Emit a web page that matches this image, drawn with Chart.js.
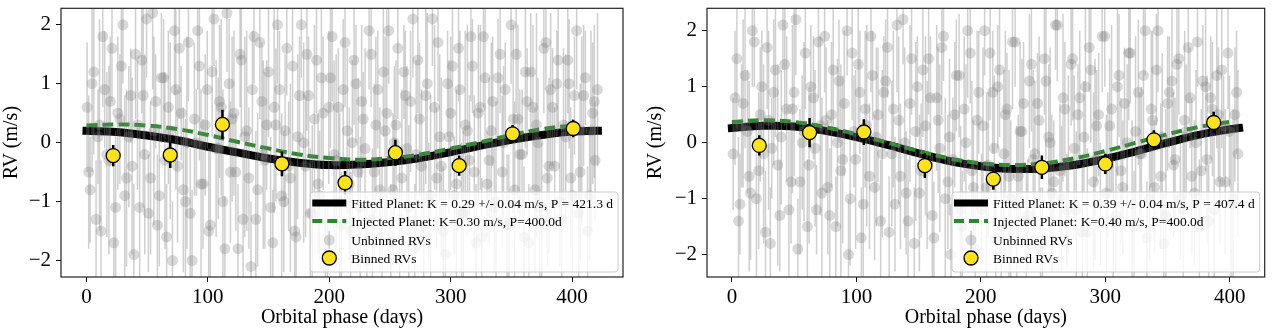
<!DOCTYPE html>
<html>
<head>
<meta charset="utf-8">
<script src="https://cdn.jsdelivr.net/npm/chart.js@4.4.1/dist/chart.umd.min.js"></script>
<style>
  html, body { margin: 0; padding: 0; background: #fff; }
  #wrap { position: relative; width: 1273px; height: 330px; }
  .panel { position: absolute; top: 0; height: 330px; }
  #panelA { left: 0; width: 636px; }
  #panelB { left: 636px; width: 637px; }
</style>
</head>
<body>
<div id="wrap">
  <div class="panel" id="panelA"><canvas id="rvLeft" width="636" height="330"></canvas></div>
  <div class="panel" id="panelB"><canvas id="rvRight" width="637" height="330"></canvas></div>
</div>
<script>
// ---- datos panel izquierdo ----
const leftRawX = [
  0.5, 3, 6, 9.5, 12, 15, 18.5, 21, 24, 27.5,
  30, 33, 36.5, 39, 42, 45.5, 48, 51, 54.5, 57,
  60, 63.5, 66, 69, 72.5, 75, 78, 81.5, 84, 87,
  90.5, 93, 96, 99.5, 102, 105, 108.5, 111, 114, 117.5,
  120, 123, 126.5, 129, 132, 135.5, 138, 141, 144.5, 147,
  150, 153.5, 156, 159, 162.5, 165, 168, 171.5, 174, 177,
  180.5, 183, 186, 189.5, 192, 195, 198.5, 201, 204, 207.5,
  210, 213, 216.5, 219, 222, 225.5, 228, 231, 234.5, 237,
  240, 243.5, 246, 249, 252.5, 255, 258, 261.5, 264, 267,
  270.5, 273, 276, 279.5, 282, 285, 288.5, 291, 294, 297.5,
  300, 303, 306.5, 309, 312, 315.5, 318, 321, 324.5, 327,
  330, 333.5, 336, 339, 342.5, 345, 348, 351.5, 354, 357,
  360.5, 363, 366, 369.5, 372, 375, 378.5, 381, 384, 387.5,
  390, 393, 396.5, 399, 402, 405.5, 408, 411, 414.5, 417,
  419, 421,
  1.8, 4.6, 7.9, 10.7, 13.4, 16.8, 19.6, 22.5, 25.8, 28.7,
  31.5, 34.9, 37.6, 40.4, 43.8, 46.7, 49.5, 52.8, 55.6, 58.4,
  61.7, 64.6, 67.4, 70.8, 73.6, 76.5, 79.8, 82.7, 85.5, 88.9,
  91.6, 94.4, 97.8, 100.7, 103.5, 106.8, 109.6, 112.4, 115.7, 118.6,
  121.5, 124.8, 127.6, 130.4, 133.8, 136.7, 139.5, 142.8, 145.6, 148.4,
  151.7, 154.6, 157.4, 160.8, 163.6, 166.5, 169.8, 172.7, 175.5, 178.9,
  181.6, 184.4, 187.8, 190.7, 193.5, 196.8, 199.6, 202.4, 205.7, 208.6,
  211.5, 214.8, 217.6, 220.4, 223.8, 226.7, 229.5, 232.8, 235.6, 238.4,
  241.7, 244.6, 247.4, 250.8, 253.6, 256.5, 259.8, 262.7, 265.5, 268.9,
  271.6, 274.4, 277.8, 280.7, 283.5, 286.8, 289.6, 292.4, 295.7, 298.6,
  301.5, 304.8, 307.6, 310.4, 313.8, 316.7, 319.5, 322.8, 325.6, 328.4,
  331.7, 334.6, 337.4, 340.8, 343.6, 346.5, 349.8, 352.7, 355.5, 358.9,
  361.6, 364.4, 367.8, 370.7, 373.5, 376.8, 379.6, 382.4, 385.7, 388.6,
  391.5, 394.8, 397.6, 400.4, 403.8, 406.7, 409.5, 412.8, 415.6, 418.4
];
const leftRawY = [
  0.6, -0.8, 1.2, 0.1, -1.5, 0.9, -0.3, 1.6, -1.1, 0.4,
  2.0, -0.6, 0.8, -1.9, 0.3, 1.4, -0.2, -1.2, 2.2, 0.7,
  -0.9, 1.1, -1.6, 0.2, 1.9, -0.4, 0.5, -1.0, 1.7, -2.0,
  0.0, 1.3, -0.7, 0.9, -1.4, 2.1, -0.1, 0.6, -1.8, 1.0,
  0.4, -0.5, 1.5, -1.3, 0.2, -2.1, 1.8, -0.8, 0.7, -0.3,
  1.2, -1.7, 0.3, 0.9, -1.0, 1.6, -0.6, -1.5, 0.1, 2.0,
  -0.4, 0.8, -1.2, 1.4, -0.9, 0.5, -1.9, 1.1, -0.2, 0.6,
  -1.4, 1.7, -0.7, 0.0, 1.0, -1.1, 0.4, -2.0, 1.5, -0.5,
  0.9, -1.6, 0.2, 1.9, -0.8, 0.3, -1.3, 1.2, -0.1, 0.7,
  -1.8, 1.4, -0.4, 0.8, -1.0, 2.1, -0.6, 0.1, -1.5, 1.0,
  0.5, -0.9, 1.6, -1.2, 0.3, -0.3, 1.3, -1.7, 0.6, 1.8,
  -0.7, 0.2, -1.1, 1.1, -0.5, 0.9, -1.4, 0.4, 1.5, -0.2,
  -1.6, 0.7, 1.2, -0.8, 0.0, -1.3, 1.7, -0.4, 0.6, 1.0,
  -1.0, 0.3, 1.4, -0.6, 0.8, -1.2, 0.2, 1.1, -0.9, 0.5,
  -0.3, 0.9,
  -0.5, 1.0, -1.3, 0.3, 1.8, -0.2, 0.7, -1.7, 0.5, 1.3,
  -0.9, 0.1, -0.4, 1.5, -1.1, 0.8, 2.1, -0.6, 0.2, -1.4,
  1.1, -0.3, 0.6, -2.0, 0.9, 1.6, -0.8, 0.0, -1.2, 0.4,
  1.9, -0.7, 0.3, -1.5, 1.2, -0.1, 0.7, -1.0, 2.2, -0.5,
  0.5, -1.8, 1.4, 0.1, -0.6, 0.9, -1.3, 1.7, -0.2, 0.3,
  -1.1, 0.6, 2.0, -0.9, 0.2, -0.4, 1.3, -1.6, 0.8, 0.0,
  1.5, -1.2, 0.4, -0.7, 1.1, -2.1, 0.6, 1.8, -0.3, -1.0,
  0.9, 0.2, -1.5, 1.4, -0.5, 0.7, -0.1, 1.9, -1.3, 0.3,
  -0.8, 1.2, 0.5, -1.7, 0.0, 1.6, -0.6, 0.8, -1.1, 2.1,
  -0.2, 0.4, -1.4, 1.0, -0.9, 0.6, 1.7, -0.4, -1.9, 0.1,
  1.3, -0.7, 0.9, -1.2, 0.2, 1.8, -0.5, 0.5, -1.6, 1.1,
  -0.3, 0.7, -1.0, 1.5, 0.0, -1.4, 2.0, -0.8, 0.4, -0.2,
  1.2, -1.7, 0.6, 0.3, -1.1, 1.6, -0.6, 0.9, -0.4, 1.4,
  -1.3, 0.1, 1.0, -0.9, 1.9, -0.5, 0.8, -1.5, 0.2, 0.7
];
const leftRawErr = [
  1.1, 0.9, 1.4, 0.8, 1.2, 1.0, 1.6, 0.9, 1.3, 1.1,
  1.0, 1.5, 0.8, 1.2, 1.1, 0.9, 1.7, 1.0, 1.3, 0.8,
  1.2, 1.0, 0.9, 1.5, 1.1, 1.3, 0.8, 1.4, 1.0, 1.2,
  0.9, 1.6, 1.1, 1.0, 1.3, 0.8, 1.2, 1.5, 0.9, 1.1,
  1.4, 1.0, 0.9, 1.2, 1.7, 1.1, 0.8, 1.3, 1.0, 1.5,
  1.1, 0.9, 1.3, 1.0, 1.2, 0.8, 1.6, 1.1, 1.4, 0.9,
  1.2, 1.0, 1.5, 0.9, 1.1, 1.3, 0.8, 1.2, 1.6, 1.0,
  0.9, 1.1, 1.3, 1.4, 1.0, 1.2, 0.8, 1.1, 0.9, 1.5,
  1.0, 1.2, 1.6, 0.9, 1.3, 1.1, 1.0, 0.8, 1.4, 1.2,
  1.1, 0.9, 1.3, 1.5, 1.0, 0.8, 1.2, 1.4, 1.1, 0.9,
  1.3, 1.0, 0.9, 1.2, 1.6, 1.1, 0.8, 1.0, 1.4, 1.2,
  0.9, 1.5, 1.1, 1.0, 1.3, 0.8, 1.2, 1.6, 1.0, 1.1,
  1.2, 0.9, 1.0, 1.4, 1.1, 1.3, 0.8, 1.5, 1.0, 0.9,
  1.1, 1.3, 0.9, 1.2, 1.0, 1.4, 1.6, 0.8, 1.1, 1.2,
  1.0, 1.3,
  1.3, 1.5, 1.0, 1.8, 1.2, 1.4, 1.1, 1.6, 1.3, 1.0,
  1.7, 1.2, 1.5, 1.1, 1.4, 1.9, 1.0, 1.3, 1.6, 1.2,
  1.1, 1.5, 1.3, 1.0, 1.7, 1.2, 1.4, 1.8, 1.1, 1.3,
  1.0, 1.6, 1.2, 1.4, 1.1, 1.5, 1.3, 1.9, 1.0, 1.2,
  1.4, 1.1, 1.3, 1.7, 1.2, 1.0, 1.5, 1.3, 1.6, 1.1,
  1.2, 1.8, 1.0, 1.4, 1.3, 1.1, 1.5, 1.2, 1.0, 1.7,
  1.3, 1.1, 1.6, 1.2, 1.4, 1.0, 1.3, 1.1, 1.8, 1.5,
  1.2, 1.4, 1.0, 1.1, 1.6, 1.3, 1.7, 1.0, 1.2, 1.5,
  1.4, 1.1, 1.9, 1.0, 1.3, 1.2, 1.5, 1.1, 1.4, 1.0,
  1.6, 1.3, 1.1, 1.2, 1.7, 1.4, 1.0, 1.5, 1.1, 1.3,
  1.2, 1.6, 1.0, 1.4, 1.8, 1.1, 1.3, 1.5, 1.0, 1.2,
  1.4, 1.1, 1.7, 1.0, 1.3, 1.2, 1.0, 1.5, 1.6, 1.1,
  1.3, 1.0, 1.4, 1.9, 1.2, 1.1, 1.5, 1.3, 1.0, 1.2,
  1.6, 1.4, 1.1, 1.3, 1.0, 1.5, 1.2, 1.1, 1.7, 1.3
];
const leftBinX = [22, 69, 112, 161, 213, 254.5, 307, 351, 401];
const leftBinY = [-0.22, -0.21, 0.31, -0.36, -0.68, -0.17, -0.39, 0.15, 0.24];
const leftBinErr = [0.18, 0.22, 0.25, 0.21, 0.2, 0.22, 0.17, 0.15, 0.15];
const leftFitX = [0, 25, 50, 75, 100, 125, 150, 175, 200, 225, 250, 275, 300, 325, 350, 375, 400, 421.3];
const leftFitY = [0.20, 0.18, 0.12, 0.04, -0.07, -0.17, -0.27, -0.34, -0.38, -0.37, -0.33, -0.26, -0.16, -0.05, 0.05, 0.13, 0.19, 0.20];
const leftInjX = [0, 25, 50, 75, 100, 125, 150, 175, 200, 225, 250, 275, 300, 325, 350, 375, 400];
const leftInjY = [0.29, 0.31, 0.29, 0.23, 0.13, 0.01, -0.10, -0.20, -0.26, -0.29, -0.26, -0.20, -0.10, 0.01, 0.13, 0.23, 0.29];
const leftLabels = [
  "Fitted Planet: K = 0.29 +/- 0.04 m/s, P = 421.3 d",
  "Injected Planet: K=0.30 m/s, P=400.0d",
  "Unbinned RVs",
  "Binned RVs"
];

// ---- datos panel derecho ----
const rightRawX = [
  1, 4, 6.5, 9, 12.5, 15, 18, 21.5, 24, 27,
  29.5, 32, 35, 38.5, 41, 44, 47.5, 50, 53, 56.5,
  59, 62, 65.5, 68, 71, 74.5, 77, 80, 83.5, 86,
  89, 92.5, 95, 98, 101.5, 104, 107, 110.5, 113, 116,
  119.5, 122, 125, 128.5, 131, 134, 137.5, 140, 143, 146.5,
  149, 152, 155.5, 158, 161, 164.5, 167, 170, 173.5, 176,
  179, 182.5, 185, 188, 191.5, 194, 197, 200.5, 203, 206,
  209.5, 212, 215, 218.5, 221, 224, 227.5, 230, 233, 236.5,
  239, 242, 245.5, 248, 251, 254.5, 257, 260, 263.5, 266,
  269, 272.5, 275, 278, 281.5, 284, 287, 290.5, 293, 296,
  299.5, 302, 305, 308.5, 311, 314, 317.5, 320, 323, 326.5,
  329, 332, 335.5, 338, 341, 344.5, 347, 350, 353.5, 356,
  359, 362.5, 365, 368, 371.5, 374, 377, 380.5, 383, 386,
  389.5, 392, 395, 398.5, 401, 404, 406.5,
  2.5, 5.3, 7.8, 10.6, 13.9, 16.4, 19.7, 22.8, 25.5, 28.3,
  30.9, 33.6, 36.8, 39.7, 42.5, 45.8, 48.6, 51.4, 54.7, 57.9,
  60.6, 63.4, 66.8, 69.5, 72.3, 75.7, 78.6, 81.4, 84.8, 87.5,
  90.3, 93.7, 96.6, 99.4, 102.8, 105.5, 108.3, 111.7, 114.6, 117.4,
  120.8, 123.5, 126.3, 129.7, 132.6, 135.4, 138.8, 141.5, 144.3, 147.7,
  150.6, 153.4, 156.8, 159.5, 162.3, 165.7, 168.6, 171.4, 174.8, 177.5,
  180.3, 183.7, 186.6, 189.4, 192.8, 195.5, 198.3, 201.7, 204.6, 207.4,
  210.8, 213.5, 216.3, 219.7, 222.6, 225.4, 228.8, 231.5, 234.3, 237.7,
  240.6, 243.4, 246.8, 249.5, 252.3, 255.7, 258.6, 261.4, 264.8, 267.5,
  270.3, 273.7, 276.6, 279.4, 282.8, 285.5, 288.3, 291.7, 294.6, 297.4,
  300.8, 303.5, 306.3, 309.7, 312.6, 315.4, 318.8, 321.5, 324.3, 327.7,
  330.6, 333.4, 336.8, 339.5, 342.3, 345.7, 348.6, 351.4, 354.8, 357.5,
  360.3, 363.7, 366.6, 369.4, 372.8, 375.5, 378.3, 381.7, 384.6, 387.4,
  390.8, 393.5, 396.3, 399.7, 402.6, 405.4
];
const rightRawY = [
  -0.2, 1.5, -1.1, 0.7, 0.2, -0.9, 1.8, -0.5, 1.0, -1.6,
  0.4, -0.1, 1.3, -1.3, 2.1, 0.6, -0.7, 0.9, -1.9, 0.0,
  1.6, -0.4, 0.8, -1.2, 0.3, 1.9, -0.8, 0.5, -1.5, 1.1,
  -0.3, 2.0, -1.0, 0.2, 1.4, -1.7, 0.6, -0.6, 1.2, 0.1,
  -1.4, 0.9, 1.7, -0.2, -1.1, 0.4, 2.2, -0.9, 0.7, -1.8,
  1.0, -0.5, 0.3, 1.5, -1.3, 0.8, -0.1, 1.9, -0.7, -2.0,
  0.5, 1.2, -1.5, 0.0, 1.6, -0.8, 0.4, -1.2, 2.0, -0.4,
  0.9, -1.7, 1.3, -0.2, 0.6, -1.0, 1.8, -0.6, 0.2, -1.4,
  1.1, -0.3, 0.7, -1.9, 1.5, 0.1, -0.9, 2.1, -0.5, 0.8,
  -1.2, 1.4, -0.1, 0.5, -1.6, 1.0, 1.7, -0.7, 0.3, -1.1,
  1.9, -0.4, 0.6, -1.3, 1.2, -0.8, 0.0, 1.6, -1.5, 0.9,
  -0.2, 2.0, -1.0, 0.4, 1.3, -0.6, -1.8, 0.7, 1.1, -0.3,
  1.5, -1.2, 0.2, 0.8, -0.9, 1.8, -0.5, 1.0, -1.4, 0.6,
  1.2, -0.7, 0.3, 1.6, -1.1, 0.5, -0.2,
  0.8, -1.4, 0.3, 1.2, -0.6, 2.0, -1.0, 0.5, -0.2, 1.7,
  -1.8, 0.9, -0.4, 0.1, 1.4, -1.2, 0.6, 2.2, -0.7, 0.2,
  -1.5, 1.0, -0.1, 1.8, -0.9, 0.4, -1.3, 1.3, 0.0, -0.5,
  0.7, -2.0, 1.6, -0.3, 0.9, -1.1, 0.3, 1.9, -0.8, 0.5,
  -0.2, 1.1, -1.6, 0.6, 2.1, -0.6, 0.0, -1.4, 1.5, 0.2,
  -0.9, 1.3, -0.4, 0.8, -1.7, 0.4, 1.7, -1.0, 0.1, -0.3,
  1.2, -1.2, 0.6, 2.0, -0.5, -1.9, 0.9, 0.3, -0.8, 1.6,
  -0.1, 1.0, -1.5, 0.5, -0.6, 1.8, -1.1, 0.2, 0.7, -1.3,
  1.4, -0.2, 0.4, -1.8, 1.1, 0.0, -0.7, 2.1, -1.0, 0.6,
  -0.4, 1.5, -1.2, 0.8, 0.1, -1.6, 1.3, -0.3, 0.5, 1.9,
  -0.9, 0.3, -1.4, 1.0, -0.5, 0.7, 1.6, -1.1, 0.2, -0.2,
  1.2, -1.7, 0.6, -0.8, 2.0, 0.1, -1.3, 0.9, -0.4, 1.4,
  -1.0, 0.4, 1.7, -0.6, 0.0, -1.5, 1.1, -0.3, 0.8, -1.2,
  0.5, 1.3, -0.7, 0.2, -1.0, 0.9
];
const rightRawErr = [
  1.0, 1.3, 0.9, 1.5, 1.1, 1.2, 0.8, 1.4, 1.0, 1.1,
  1.6, 0.9, 1.2, 1.0, 0.8, 1.3, 1.1, 1.5, 0.9, 1.2,
  1.0, 1.4, 1.1, 0.8, 1.6, 1.0, 1.2, 1.3, 0.9, 1.1,
  1.5, 0.8, 1.2, 1.0, 1.1, 0.9, 1.4, 1.3, 0.8, 1.6,
  1.1, 1.0, 0.9, 1.3, 1.2, 1.5, 0.8, 1.1, 1.4, 1.0,
  0.9, 1.2, 1.6, 1.0, 1.1, 1.3, 1.5, 0.8, 1.2, 0.9,
  1.3, 1.1, 1.0, 1.4, 0.9, 1.2, 1.6, 1.0, 0.8, 1.3,
  1.1, 0.9, 1.2, 1.5, 1.0, 1.4, 0.8, 1.1, 1.3, 1.0,
  1.2, 1.6, 0.9, 1.1, 1.0, 1.3, 1.4, 0.8, 1.2, 1.5,
  1.0, 1.1, 1.3, 0.9, 1.2, 1.4, 0.8, 1.6, 1.0, 1.1,
  0.9, 1.3, 1.5, 1.0, 1.1, 1.2, 1.4, 0.9, 1.0, 1.3,
  1.2, 0.8, 1.1, 1.6, 1.0, 1.3, 0.9, 1.2, 1.5, 1.1,
  1.0, 1.4, 1.2, 0.9, 1.3, 0.8, 1.1, 1.5, 1.0, 1.2,
  1.3, 1.1, 0.9, 1.0, 1.4, 1.2, 1.5,
  1.2, 1.5, 1.1, 1.3, 1.7, 1.0, 1.4, 1.2, 1.6, 1.1,
  1.0, 1.3, 1.8, 1.2, 1.1, 1.4, 1.5, 1.0, 1.3, 1.6,
  1.2, 1.1, 1.4, 1.0, 1.7, 1.3, 1.2, 1.1, 1.5, 1.9,
  1.3, 1.0, 1.2, 1.6, 1.1, 1.4, 1.8, 1.0, 1.3, 1.2,
  1.5, 1.1, 1.0, 1.4, 1.2, 1.3, 1.7, 1.1, 1.0, 1.6,
  1.4, 1.2, 1.5, 1.1, 1.0, 1.3, 1.2, 1.8, 1.4, 1.1,
  1.0, 1.5, 1.3, 1.2, 1.6, 1.0, 1.1, 1.4, 1.7, 1.2,
  1.3, 1.1, 1.0, 1.5, 1.9, 1.2, 1.4, 1.6, 1.1, 1.0,
  1.2, 1.3, 1.5, 1.0, 1.4, 1.7, 1.1, 1.0, 1.3, 1.2,
  1.6, 1.1, 1.4, 1.2, 1.0, 1.5, 1.3, 1.8, 1.1, 1.0,
  1.4, 1.2, 1.1, 1.6, 1.3, 1.0, 1.2, 1.5, 1.7, 1.1,
  1.3, 1.0, 1.4, 1.2, 1.1, 1.5, 1.9, 1.0, 1.3, 1.2,
  1.1, 1.6, 1.0, 1.4, 1.3, 1.2, 1.0, 1.5, 1.1, 1.7,
  1.2, 1.4, 1.3, 1.0, 1.6, 1.1
];
const rightBinX = [22, 62.4, 106, 155, 210, 249, 300, 339, 387];
const rightBinY = [-0.05, 0.18, 0.19, -0.41, -0.65, -0.44, -0.38, 0.05, 0.36];
const rightBinErr = [0.18, 0.26, 0.23, 0.22, 0.19, 0.21, 0.18, 0.17, 0.19];
const rightFitX = [0, 25, 50, 75, 100, 125, 150, 175, 200, 225, 250, 275, 300, 325, 350, 375, 400, 407.4];
const rightFitY = [0.26, 0.30, 0.29, 0.21, 0.10, -0.04, -0.19, -0.33, -0.42, -0.47, -0.46, -0.40, -0.29, -0.15, 0.00, 0.14, 0.24, 0.26];
const rightInjX = [0, 25, 50, 75, 100, 125, 150, 175, 200, 225, 250, 275, 300, 325, 350, 375, 400];
const rightInjY = [0.37, 0.40, 0.37, 0.28, 0.15, 0.00, -0.15, -0.28, -0.37, -0.40, -0.37, -0.28, -0.15, 0.00, 0.15, 0.28, 0.37];
const rightLabels = [
  "Fitted Planet: K = 0.39 +/- 0.04 m/s, P = 407.4 d",
  "Injected Planet: K=0.40 m/s, P=400.0d",
  "Unbinned RVs",
  "Binned RVs"
];

const SERIF = "'Liberation Serif', 'DejaVu Serif', serif";
Chart.defaults.font.family = SERIF;
Chart.defaults.font.size = 20;
Chart.defaults.color = "#000";

const GRIS_PUNTO = "rgba(120,120,120,0.28)";
const GRIS_BARRA = "rgba(130,130,130,0.38)";

function pares(xs, ys) {
  return xs.map((x, i) => ({ x: x, y: ys[i] }));
}

// barras de error verticales, dibujadas justo antes de su dataset
const errorBars = {
  id: "errorBars",
  beforeDatasetDraw(chart, args) {
    const ds = chart.data.datasets[args.index];
    if (!ds.errors) return;
    const ctx = chart.ctx;
    const area = chart.chartArea;
    const xs = chart.scales.x, ys = chart.scales.y;
    ctx.save();
    ctx.beginPath();
    ctx.rect(area.left, area.top, area.right - area.left, area.bottom - area.top);
    ctx.clip();
    ctx.strokeStyle = ds.errorColor;
    ctx.lineWidth = ds.errorWidth;
    ds.data.forEach((p, i) => {
      const px = xs.getPixelForValue(p.x);
      ctx.beginPath();
      ctx.moveTo(px, ys.getPixelForValue(p.y - ds.errors[i]));
      ctx.lineTo(px, ys.getPixelForValue(p.y + ds.errors[i]));
      ctx.stroke();
    });
    ctx.restore();
  }
};

// marco completo alrededor del area
const marco = {
  id: "marco",
  afterDraw(chart) {
    const a = chart.chartArea, ctx = chart.ctx;
    ctx.save();
    ctx.strokeStyle = "#222";
    ctx.lineWidth = 1.2;
    ctx.strokeRect(a.left, a.top, a.right - a.left, a.bottom - a.top);
    ctx.restore();
  }
};

// leyenda estilo matplotlib abajo a la derecha
const leyenda = {
  id: "leyenda",
  afterDraw(chart, args, opts) {
    const labels = opts.labels;
    if (!labels) return;
    const ctx = chart.ctx, a = chart.chartArea;
    ctx.save();
    ctx.font = "13.5px " + SERIF;
    const tw = Math.max(...labels.map(t => ctx.measureText(t).width));
    const w = tw + 46, h = 80;
    const x0 = a.right - 5 - w, y0 = a.bottom - 5 - h;
    ctx.beginPath();
    ctx.roundRect(x0, y0, w, h, 3);
    ctx.fillStyle = "rgba(255,255,255,0.8)";
    ctx.fill();
    ctx.strokeStyle = "#cccccc";
    ctx.lineWidth = 1;
    ctx.stroke();

    const rows = [11, 29, 48, 66].map(r => y0 + r);
    const hx1 = x0 + 2, hx2 = x0 + 36, hc = x0 + 19;
    // ajuste
    ctx.strokeStyle = "#000";
    ctx.lineWidth = 7;
    ctx.beginPath(); ctx.moveTo(hx1, rows[0]); ctx.lineTo(hx2, rows[0]); ctx.stroke();
    // inyectado
    ctx.strokeStyle = "#2a8a2a";
    ctx.lineWidth = 4;
    ctx.setLineDash([10, 5]);
    ctx.beginPath(); ctx.moveTo(hx1, rows[1]); ctx.lineTo(hx2, rows[1]); ctx.stroke();
    ctx.setLineDash([]);
    // sin agrupar
    ctx.strokeStyle = GRIS_BARRA;
    ctx.lineWidth = 1.5;
    ctx.beginPath(); ctx.moveTo(hc, rows[2] - 9); ctx.lineTo(hc, rows[2] + 9); ctx.stroke();
    ctx.fillStyle = GRIS_PUNTO;
    ctx.beginPath(); ctx.arc(hc, rows[2], 5.5, 0, Math.PI * 2); ctx.fill();
    // agrupados
    ctx.fillStyle = "#ffe21a";
    ctx.strokeStyle = "#000";
    ctx.lineWidth = 1.3;
    ctx.beginPath(); ctx.arc(hc, rows[3], 7, 0, Math.PI * 2); ctx.fill(); ctx.stroke();

    ctx.fillStyle = "#000";
    ctx.textBaseline = "middle";
    labels.forEach((t, i) => ctx.fillText(t, x0 + 41, rows[i] + 1));
    ctx.restore();
  }
};

function crearPanel(id, d) {
  const ctx = document.getElementById(id).getContext("2d");
  return new Chart(ctx, {
    type: "scatter",
    data: {
      datasets: [
        {
          label: "Binned RVs",
          data: pares(d.binX, d.binY),
          errors: d.binErr,
          errorColor: "#000",
          errorWidth: 2.5,
          pointRadius: 7,
          pointBackgroundColor: "#ffe21a",
          pointBorderColor: "#000",
          pointBorderWidth: 1.3,
          order: 0,
          clip: 0,
        },
        {
          label: "Unbinned RVs",
          data: pares(d.rawX, d.rawY),
          errors: d.rawErr,
          errorColor: GRIS_BARRA,
          errorWidth: 1.5,
          pointRadius: 5.5,
          pointBackgroundColor: GRIS_PUNTO,
          pointBorderWidth: 0,
          order: 1,
          clip: 0,
        },
        {
          label: "Injected Planet",
          data: pares(d.injX, d.injY),
          showLine: true,
          borderColor: "#2a8a2a",
          borderWidth: 4,
          borderDash: [11, 5],
          pointRadius: 0,
          tension: 0.4,
          order: 2,
        },
        {
          label: "Fitted Planet",
          data: pares(d.fitX, d.fitY),
          showLine: true,
          borderColor: "#000",
          borderWidth: 8,
          borderCapStyle: "square",
          pointRadius: 0,
          tension: 0.4,
          order: 3,
        },
      ],
    },
    options: {
      responsive: false,
      animation: false,
      layout: { padding: d.padding },
      scales: {
        x: {
          type: "linear",
          min: d.xMin,
          max: d.xMax,
          ticks: { stepSize: 100, includeBounds: false, padding: 3, maxRotation: 0, font: { size: 21 } },
          grid: { drawOnChartArea: false, drawTicks: true, tickLength: 5, color: "#000", tickColor: "#000" },
          border: { display: false },
          title: { display: true, text: "Orbital phase (days)", padding: 0 },
          afterFit(s) { s.height = 53; s.paddingLeft = 0; s.paddingRight = 0; },
        },
        y: {
          min: d.yMin,
          max: d.yMax,
          ticks: {
            stepSize: 1,
            includeBounds: false,
            padding: 5,
            font: { size: 21 },
            callback: (v) => (v < 0 ? "\u2212" + Math.abs(v) : String(v)),
          },
          grid: { drawOnChartArea: false, drawTicks: true, tickLength: 5, color: "#000", tickColor: "#000" },
          border: { display: false },
          title: { display: true, text: "RV (m/s)", padding: 0 },
          afterFit(s) { s.width = d.yWidth; s.paddingTop = 0; s.paddingBottom = 0; },
        },
      },
      plugins: {
        legend: { display: false },
        tooltip: { enabled: false },
        leyenda: { labels: d.labels },
      },
    },
    plugins: [errorBars, marco, leyenda],
  });
}

crearPanel("rvLeft", {
  rawX: leftRawX, rawY: leftRawY, rawErr: leftRawErr,
  binX: leftBinX, binY: leftBinY, binErr: leftBinErr,
  fitX: leftFitX, fitY: leftFitY, injX: leftInjX, injY: leftInjY,
  labels: leftLabels,
  xMin: -21, xMax: 442, yMin: -2.28, yMax: 2.28,
  padding: { top: 3, right: 13, left: 0, bottom: 0 },
  yWidth: 61,
});

crearPanel("rvRight", {
  rawX: rightRawX, rawY: rightRawY, rawErr: rightRawErr,
  binX: rightBinX, binY: rightBinY, binErr: rightBinErr,
  fitX: rightFitX, fitY: rightFitY, injX: rightInjX, injY: rightInjY,
  labels: rightLabels,
  xMin: -20, xMax: 428, yMin: -2.4, yMax: 2.4,
  padding: { top: 3, right: 3, left: 8, bottom: 0 },
  yWidth: 63,
});
</script>
</body>
</html>
